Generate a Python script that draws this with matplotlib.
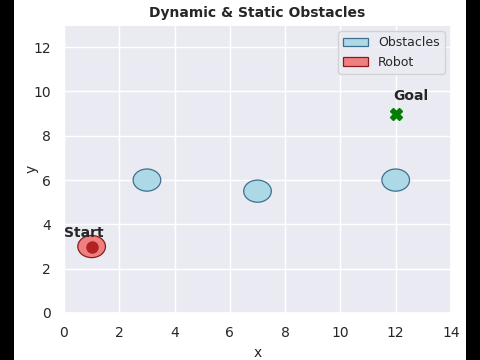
import matplotlib.pyplot as plt
import seaborn as sns
from matplotlib.patches import Circle, Rectangle

# scene
obstacles_x = [3, 7, 12]
obstacles_y = [6, 5.5, 6]
obstacle_r = 0.5
robot_pos = (1, 3)
robot_r = 0.5
goal_pos = (12, 9)

sns.set_theme(style='darkgrid', rc={'font.size': 10, 'axes.labelsize': 10,
                                    'xtick.labelsize': 10, 'ytick.labelsize': 10,
                                    'legend.fontsize': 9, 'axes.titlesize': 10})

fig = plt.figure(figsize=(4.8, 3.6), dpi=100, facecolor='black')
# letterbox bands like the source frame
fig.patches.append(Rectangle((14/480, 0), 452/480, 1, transform=fig.transFigure,
                             facecolor='white', edgecolor='none', zorder=-10))
ax = fig.add_axes([64/480, 1 - 313/360, 387/480, 288/360])

for i, (ox, oy) in enumerate(zip(obstacles_x, obstacles_y)):
    ax.add_patch(Circle((ox, oy), obstacle_r, facecolor='lightblue', edgecolor='#3f6f8f',
                        linewidth=0.9, label='Obstacles' if i == 0 else None, zorder=3))

ax.add_patch(Circle(robot_pos, robot_r, facecolor='#f08080', edgecolor='#8b1a1a',
                    linewidth=0.9, label='Robot', zorder=3))
ax.plot(robot_pos[0], robot_pos[1], 'o', color='#b22222', markersize=8, zorder=4)
ax.text(robot_pos[0] - 1, robot_pos[1] + 0.45, 'Start', fontweight='bold', fontsize=10)

ax.plot(goal_pos[0], goal_pos[1], 'X', color='green', markersize=9, zorder=4)
ax.text(goal_pos[0] - 0.1, goal_pos[1] + 0.6, 'Goal', fontweight='bold', fontsize=10)

ax.set_xlim(0, 14)
ax.set_ylim(0, 13)
ax.set_xlabel('x')
ax.set_ylabel('y', labelpad=-4)
ax.set_title('Dynamic & Static Obstacles', fontweight='bold')
ax.legend(loc='upper right', facecolor='#eaeaf2', framealpha=0.8)

fig.savefig('out.png', dpi=100, facecolor=fig.get_facecolor())
